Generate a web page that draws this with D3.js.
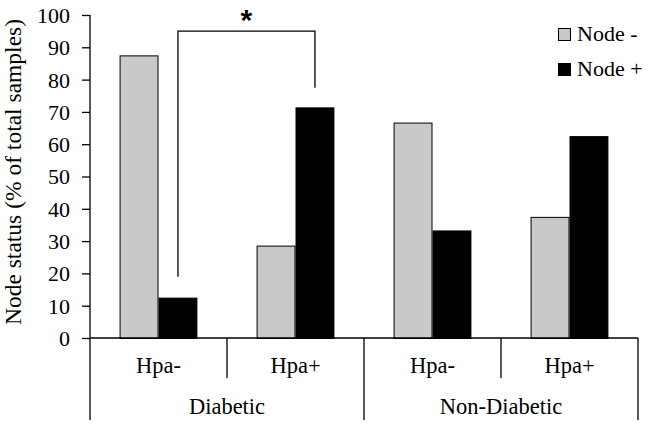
<!DOCTYPE html>
<html lang="en">
<head>
<meta charset="UTF-8">
<title>Node status</title>
<script src="https://d3js.org/d3.v7.min.js"></script>
<style>
    body { margin: 0; padding: 0; background: #fff; }
</style>
</head>
<body>
<div id="chart"></div>
<script>
    // data
    const groups = ['Diabetic', 'Non-Diabetic'];
    const subgroups = ['Hpa-', 'Hpa+'];
    const series = ['Node -', 'Node +'];
    const nodeNeg = [87.5, 28.6, 66.7, 37.5];
    const nodePos = [12.5, 71.4, 33.3, 62.5];
    const yTicks = [0, 10, 20, 30, 40, 50, 60, 70, 80, 90, 100];
    // significance bracket: [from cluster, to cluster], bar heights at ends, top
    const sigPair = [0, 1];
    const sigLevels = [19, 95, 77.5];
    const sigLabel = '*';

    const colors = ['#c9c9c9', '#000000'];
    const serif = "'Liberation Serif', 'Tinos', 'DejaVu Serif', serif";

    const W = 650, H = 426;
    const mLeft = 90, mRight = 638, mTop = 15, mBottom = 338;

    const svg = d3.select('#chart').append('svg')
        .attr('width', W).attr('height', H);

    // one band per (group, subgroup)
    const clusters = [];
    groups.forEach(g => subgroups.forEach(s => clusters.push(g + '|' + s)));
    const values = clusters.map((c, i) => [nodeNeg[i], nodePos[i]]);

    const x0 = d3.scaleBand().domain(clusters).range([mLeft, mRight]);
    const x1 = d3.scaleBand().domain(series).range([0, x0.bandwidth()])
        .paddingInner(0).paddingOuter(0.76);
    const y = d3.scaleLinear().domain([0, 100]).range([mBottom, mTop]);

    // y axis
    const yAxis = svg.append('g')
        .attr('transform', `translate(${mLeft},0)`)
        .call(d3.axisLeft(y).tickValues(yTicks).tickSize(8).tickPadding(12).tickSizeOuter(0));
    yAxis.attr('font-family', serif).attr('font-size', 22);
    yAxis.select('.domain').remove();
    yAxis.selectAll('line').attr('stroke', '#000').attr('stroke-width', 1.3);
    yAxis.selectAll('text').attr('fill', '#000').attr('dy', '0.34em');

    // bars
    const cl = svg.append('g').selectAll('g')
        .data(values).enter().append('g')
        .attr('transform', (d, i) => `translate(${x0(clusters[i])},0)`);
    cl.selectAll('rect')
        .data(d => d.map((v, k) => ({ v: v, s: series[k], k: k })))
        .enter().append('rect')
        .attr('x', d => x1(d.s) + 0.5)
        .attr('y', d => y(d.v) + 0.5)
        .attr('width', x1.bandwidth() - 1)
        .attr('height', d => mBottom - y(d.v))
        .attr('fill', d => colors[d.k])
        .attr('stroke', '#000')
        .attr('stroke-width', 1);

    // axis lines and category boxes
    const ax = svg.append('g').attr('stroke', '#000').attr('stroke-width', 1.3);
    ax.append('line').attr('x1', mLeft).attr('x2', mLeft).attr('y1', mTop).attr('y2', 420);
    ax.append('line').attr('x1', mLeft).attr('x2', mRight).attr('y1', mBottom).attr('y2', mBottom);
    clusters.forEach((c, i) => {
        if (i === 0) return;
        const xx = x0(c);
        const isGroupEdge = i % subgroups.length === 0;
        ax.append('line').attr('x1', xx).attr('x2', xx)
            .attr('y1', mBottom).attr('y2', isGroupEdge ? 420 : 378);
    });
    ax.append('line').attr('x1', mRight).attr('x2', mRight).attr('y1', mBottom).attr('y2', 420);

    const txt = svg.append('g').attr('font-family', serif).attr('font-size', 22.5).attr('fill', '#000');

    // sub labels
    txt.append('g').selectAll('text').data(clusters).enter().append('text')
        .attr('x', d => x0(d) + x0.bandwidth() / 2)
        .attr('y', 373)
        .attr('text-anchor', 'middle')
        .text(d => d.split('|')[1]);

    // group labels
    txt.append('g').selectAll('text').data(groups).enter().append('text')
        .attr('x', (g, i) => {
            const a = x0(clusters[i * subgroups.length]);
            const b = x0(clusters[(i + 1) * subgroups.length - 1]) + x0.bandwidth();
            return (a + b) / 2;
        })
        .attr('y', 414)
        .attr('text-anchor', 'middle')
        .text(d => d);

    // significance bracket
    const bx1 = x0(clusters[sigPair[0]]) + x1(series[1]) + x1.bandwidth() / 2;
    const bx2 = x0(clusters[sigPair[1]]) + x1(series[1]) + x1.bandwidth() / 2;
    svg.append('path')
        .attr('d', `M${bx1},${y(sigLevels[0])}V${y(sigLevels[1])}H${bx2}V${y(sigLevels[2])}`)
        .attr('fill', 'none').attr('stroke', '#000').attr('stroke-width', 1.3);
    svg.append('text')
        .attr('x', (bx1 + bx2) / 2)
        .attr('y', y(sigLevels[1]) - 1)
        .attr('text-anchor', 'middle')
        .attr('font-family', "'Liberation Sans', Arial, sans-serif")
        .attr('font-size', 30)
        .attr('font-weight', 'bold')
        .text(sigLabel);

    // legend
    const lg = txt.append('g').attr('transform', 'translate(558,28)');
    series.forEach((s, i) => {
        lg.append('rect').attr('x', 0.5).attr('y', i * 35 + 0.5)
            .attr('width', 12).attr('height', 12)
            .attr('fill', colors[i]).attr('stroke', '#000');
        lg.append('text').attr('x', 19).attr('y', i * 35 + 13)
            .attr('font-size', 22)
            .text(s);
    });

    // y title
    txt.append('text')
        .attr('transform', `translate(21,172) rotate(-90)`)
        .attr('text-anchor', 'middle')
        .attr('font-size', 23.5)
        .text('Node status (% of total samples)');
</script>
</body>
</html>
